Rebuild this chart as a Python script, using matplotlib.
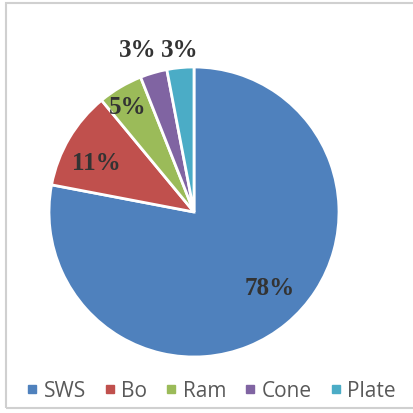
import matplotlib
matplotlib.use("Agg")
import matplotlib.pyplot as plt
from matplotlib.lines import Line2D
from matplotlib.patches import Rectangle

categories = ["SWS", "Bo", "Ram", "Cone", "Plate"]
values = [78, 11, 5, 3, 3]
labels = ["78%", "11%", "5%", "3%", "3%"]
colors = ["#4F81BD", "#C0504D", "#9BBB59", "#8064A2", "#4BACC6"]
label_pos = [(0.52, -0.52), (-0.67, 0.34), (-0.46, 0.73), (-0.39, 1.12), (-0.10, 1.12)]

W, H = 413, 414
fig = plt.figure(figsize=(W / 100, H / 100), dpi=100)
fig.patches.append(Rectangle((6 / W, 1 - 409 / H), (W + 10) / W, (409 - 4) / H,
                             transform=fig.transFigure, fill=False,
                             edgecolor="#d0d0d0", linewidth=1.5))

cx, cy, R = 194, 213, 145
ext = 1.3
ax = fig.add_axes([(cx - R * ext) / W, 1 - (cy + R * ext) / H, 2 * R * ext / W, 2 * R * ext / H])

wedges, _ = ax.pie(values, colors=colors, startangle=90, counterclock=False,
                   radius=1.0, wedgeprops=dict(edgecolor="white", linewidth=2))
ax.set_xlim(-ext, ext)
ax.set_ylim(-ext, ext)
ax.set_aspect("equal")
ax.axis("off")

for lab, (x, y) in zip(labels, label_pos):
    ax.text(x, y, lab, ha="center", va="center", fontsize=18, fontweight="bold",
            family="Liberation Serif", color="#333333")

handles = [Line2D([0], [0], marker="s", linestyle="none", markersize=6,
                  markerfacecolor=c, markeredgecolor=c) for c in colors]
fig.legend(handles, categories, loc="center", bbox_to_anchor=(211 / W, 1 - 392 / H),
           ncol=5, frameon=False, handletextpad=0.25, columnspacing=0.85,
           handlelength=0.6, borderpad=0, prop=dict(family="Open Sans", size=15),
           labelcolor="#595959")

fig.savefig("out.png", dpi=100)
